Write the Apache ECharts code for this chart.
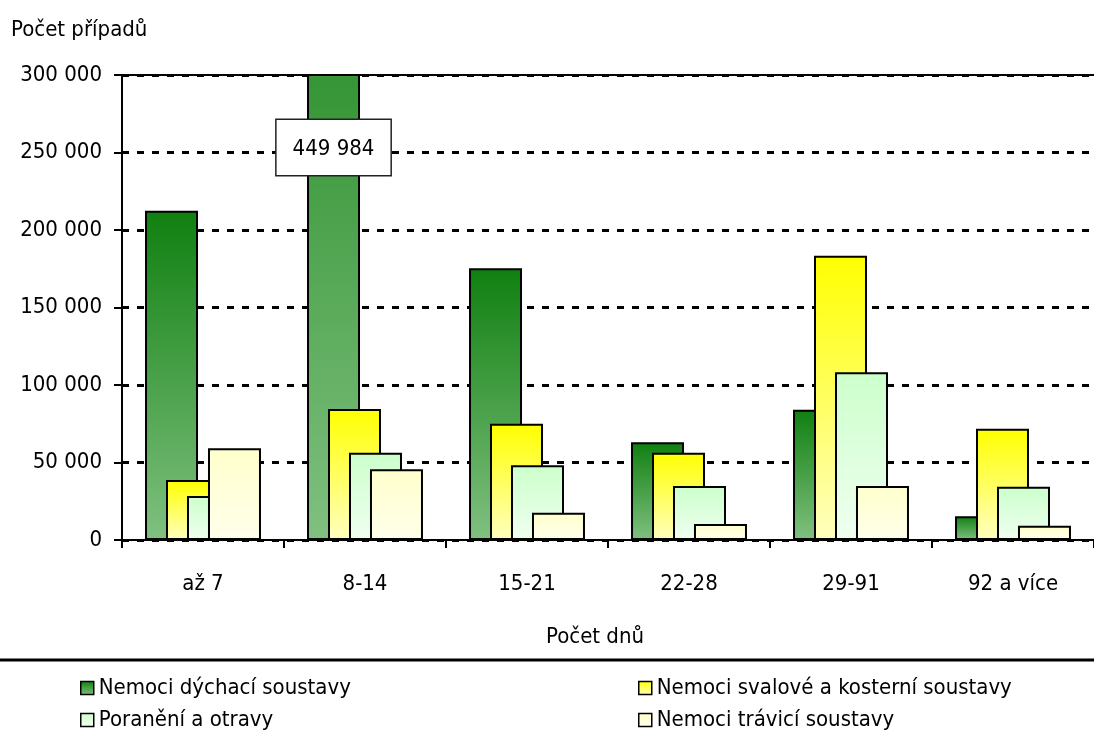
<!DOCTYPE html>
<html>
<head>
<meta charset="utf-8">
<script src="https://cdn.jsdelivr.net/npm/echarts@6/dist/echarts.min.js"></script>
<style>
html,body{margin:0;padding:0;background:#fff;}
#chart{width:1094px;height:740px;}
</style>
</head>
<body>
<div id="chart"></div>
<script>
const categories = ['až 7', '8-14', '15-21', '22-28', '29-91', '92 a více'];
const seriesNames = ['Nemoci dýchací soustavy', 'Nemoci svalové a kosterní soustavy', 'Poranění a otravy', 'Nemoci trávicí soustavy'];
const dychaci = [212500, 449984, 175300, 63000, 84100, 15300];
const svalove = [38700, 84500, 75000, 56300, 183400, 71800];
const poraneni = [28400, 56300, 48200, 34800, 108200, 34400];
const travici = [59200, 45600, 17600, 10300, 34800, 9200];
const yMin = 0, yMax = 300000, yStep = 50000;

const FONT = "'Liberation Sans Narrow', 'Arial Narrow', 'DejaVu Sans Condensed', sans-serif";
const FS = 22;
const fmt = v => String(Math.round(v)).replace(/\B(?=(\d{3})+(?!\d))/g, ' ');

const palettes = [
  [[16,128,16],[128,192,128]],
  [[255,255,0],[255,255,192]],
  [[204,255,204],[240,255,240]],
  [[255,255,204],[255,255,236]]
];
const rgb = c => 'rgb(' + c.map(Math.round).join(',') + ')';
const grad = (top, bot) => new echarts.graphic.LinearGradient(0, 0, 0, 1, [
  {offset: 0, color: rgb(top)}, {offset: 1, color: rgb(bot)}
]);
const mix = (a, b, t) => a.map((x, i) => x + (b[i] - x) * t);

const valueSets = [dychaci, svalove, poraneni, travici];

const series = valueSets.map((vals, si) => {
  const [top, bot] = palettes[si];
  return {
    name: seriesNames[si],
    type: 'bar',
    barWidth: 53,
    barGap: '-60.4%',
    itemStyle: {color: grad(top, bot), borderColor: '#000', borderWidth: 2},
    data: vals.map(v => {
      if (v > yMax) {
        const t = (v - yMax) / v;
        return {
          value: v,
          itemStyle: {color: grad(mix(top, bot, t), bot)},
          label: {
            show: true,
            position: 'insideTop',
            distance: 46,
            formatter: p => fmt(p.value),
            fontFamily: FONT,
            fontSize: FS,
            color: '#000',
            backgroundColor: '#fff',
            borderColor: '#222',
            borderWidth: 1.5,
            padding: [18, 16, 15, 16]
          }
        };
      }
      return v;
    })
  };
});

const legendPos = [[80, 677], [638, 677], [80, 709], [638, 709]];
const legends = seriesNames.map((n, i) => ({
  data: [n],
  orient: 'horizontal',
  left: legendPos[i][0], top: legendPos[i][1],
  padding: 0,
  itemWidth: 13, itemHeight: 13,
  icon: 'rect',
  itemStyle: {borderColor: '#000', borderWidth: 1.5},
  textStyle: {fontFamily: FONT, fontSize: FS, color: '#000'}
}));

const chart = echarts.init(document.getElementById('chart'));
chart.setOption({
  animation: false,
  backgroundColor: '#fff',
  title: {
    text: 'Počet případů',
    left: 6,
    top: 14,
    textStyle: {fontFamily: FONT, fontSize: FS, fontWeight: 'normal', color: '#000'}
  },
  grid: {left: 122, right: -12, top: 75, bottom: 200, containLabel: false},
  legend: legends,
  xAxis: [
    {
      type: 'category',
      data: categories,
      name: 'Počet dnů',
      nameLocation: 'middle',
      nameGap: 86,
      nameTextStyle: {fontFamily: FONT, fontSize: FS, color: '#000', padding: [0, 26, 0, 0]},
      axisLine: {lineStyle: {color: '#000', width: 2}},
      axisTick: {show: true, alignWithLabel: false, length: 8, lineStyle: {color: '#000', width: 2}},
      axisLabel: {fontFamily: FONT, fontSize: FS, color: '#000', margin: 33}
    },
    {
      type: 'category',
      position: 'top',
      data: categories,
      axisLine: {show: true, lineStyle: {color: '#000', width: 2}},
      axisTick: {show: false},
      axisLabel: {show: false}
    }
  ],
  yAxis: {
    type: 'value',
    min: yMin, max: yMax, interval: yStep,
    axisLine: {show: true, lineStyle: {color: '#000', width: 2}},
    axisTick: {show: true, length: 8, lineStyle: {color: '#000', width: 2}},
    axisLabel: {fontFamily: FONT, fontSize: FS, color: '#000', margin: 20, formatter: v => fmt(v)},
    splitLine: {show: true, lineStyle: {color: '#000', width: 3, type: [7, 8]}}
  },
  graphic: [
    {type: 'line', shape: {x1: 0, y1: 660, x2: 1094, y2: 660}, style: {stroke: '#000', lineWidth: 3}}
  ],
  series: series
});
</script>
</body>
</html>
